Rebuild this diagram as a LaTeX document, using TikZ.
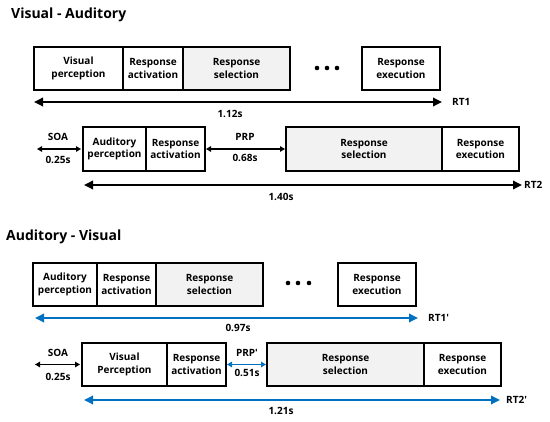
\documentclass[tikz,border=0pt]{standalone}
\usepackage{fontspec}
\setmainfont{Open Sans}
\usepackage{xcolor}
\usetikzlibrary{arrows.meta, positioning}
\definecolor{rtblue}{RGB}{0,112,192}

\begin{document}
\begin{tikzpicture}[
        x=1pt, y=-1pt,
        font=\fontsize{10}{12.5}\selectfont\bfseries,
        box/.style={draw, line width=1.1pt, minimum height=43, inner sep=1pt, outer sep=0pt, align=center, anchor=north west},
        selbox/.style={box, fill=gray!10, line width=1.5pt},
        lbl/.style={inner sep=1pt},
        title/.style={anchor=west, inner sep=0pt, font=\fontsize{14}{16}\selectfont\bfseries},
        span/.style={line width=1.8pt, {Triangle[length=9pt,width=8.5pt]}-{Triangle[length=9pt,width=8.5pt]}},
        gap/.style={line width=1.2pt, {Triangle[length=5pt,width=5.5pt]}-{Triangle[length=5pt,width=5.5pt]}}
    ]
        \useasboundingbox (0,0) rectangle (550,422);

        % Visual - Auditory
        \node[title] (ttl1) at (11,15) {Visual - Auditory};

        \node[box, minimum width=89] (vp1) at (34,47) {Visual\\perception};
        \node[box, minimum width=60, right=0pt of vp1] (ra1) {Response\\activation};
        \node[selbox, minimum width=107, right=0pt of ra1] (rs1) {Response\\selection};
        \node[box, minimum width=78] (re1) at (362,47) {Response\\execution};
        \foreach \px in {317,327,337} \fill (\px,68) circle (2.3pt);

        \coordinate (t1a) at (34,102);
        \coordinate (t1b) at (442,102);
        \draw[span] (t1a) -- (t1b);
        \node[lbl, right=9pt of t1b] (rt1) {RT1};
        \node[lbl] (d1) at (230,114) {1.12s};

        \node[box, minimum width=63, minimum height=44] (ap2) at (83,127) {Auditory\\perception};
        \node[box, minimum width=59, minimum height=44, right=0pt of ap2] (ra2) {Response\\activation};
        \node[selbox, minimum width=156, minimum height=44] (rs2) at (286,127) {Response\\selection};
        \node[box, minimum width=77, minimum height=44, right=0pt of rs2] (re2) {Response\\execution};

        \coordinate (soa2) at (37,149);
        \draw[gap, shorten >=2pt] (soa2) -- (ap2.west);
        \node[lbl] (soat2) at (58,137) {SOA};
        \node[lbl] (soav2) at (58,160) {0.25s};
        \draw[gap, shorten <=1pt, shorten >=1pt] (ra2.east) -- (rs2.west);
        \node[lbl] (prpt2) at (245,137) {PRP};
        \node[lbl] (prpv2) at (245,158) {0.68s};

        \coordinate (t2a) at (84,185);
        \coordinate (t2b) at (522,185);
        \draw[span] (t2a) -- (t2b);
        \node[lbl, right=1pt of t2b] (rt2) {RT2};
        \node[lbl] (d2) at (281,197) {1.40s};

        % Auditory - Visual
        \node[title] (ttl2) at (6,237) {Auditory - Visual};

        \node[box, minimum width=64] (ap3) at (33,263) {Auditory\\perception};
        \node[box, minimum width=59, right=0pt of ap3] (ra3) {Response\\activation};
        \node[selbox, minimum width=107, right=0pt of ra3] (rs3) {Response\\selection};
        \node[box, minimum width=78] (re3) at (338,263) {Response\\execution};
        \foreach \px in {288,298,309} \fill (\px,283) circle (2.3pt);

        \coordinate (t3a) at (35,318);
        \coordinate (t3b) at (418,318);
        \draw[span, rtblue] (t3a) -- (t3b);
        \node[lbl, right=9pt of t3b] (rt3) {RT1′};
        \node[lbl] (d3) at (238,328) {0.97s};

        \node[box, minimum width=85] (vp4) at (82,343) {Visual\\Perception};
        \node[box, minimum width=59, right=0pt of vp4] (ra4) {Response\\activation};
        \node[selbox, minimum width=157] (rs4) at (267,343) {Response\\selection};
        \node[box, minimum width=77, right=0pt of rs4] (re4) {Response\\execution};

        \coordinate (soa4) at (35,364.5);
        \draw[gap, shorten >=2pt] (soa4) -- (vp4.west);
        \node[lbl] (soat4) at (58,353) {SOA};
        \node[lbl] (soav4) at (58,377) {0.25s};
        \draw[gap, rtblue, shorten <=1pt, shorten >=1pt] (ra4.east) -- (rs4.west);
        \node[lbl] (prpt4) at (247,353) {PRP′};
        \node[lbl] (prpv4) at (247,373) {0.51s};

        \coordinate (t4a) at (84,400);
        \coordinate (t4b) at (500,400);
        \draw[span, rtblue] (t4a) -- (t4b);
        \node[lbl, right=5pt of t4b] (rt4) {RT2′};
        \node[lbl] (d4) at (281,411) {1.21s};
    \end{tikzpicture}
\end{document}
